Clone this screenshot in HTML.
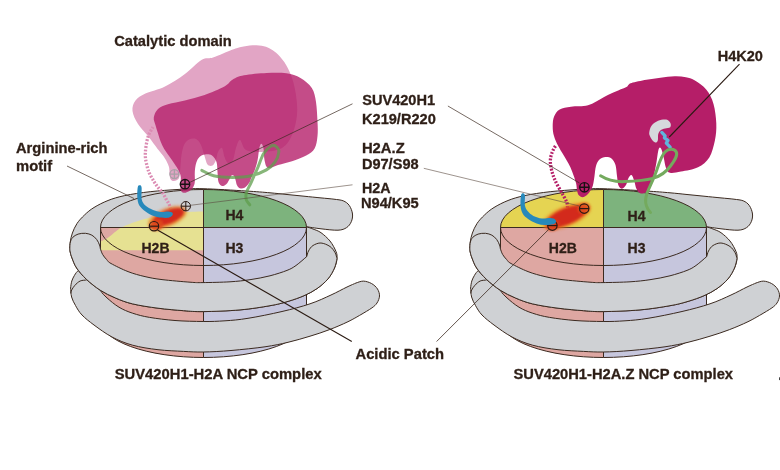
<!DOCTYPE html>
<html><head><meta charset="utf-8"><title>SUV420H1 NCP complex</title>
<style>html,body{margin:0;padding:0;background:#fff}svg{display:block}text{font-family:"Liberation Sans",sans-serif;font-weight:bold;font-size:14px;fill:#2e1f17;stroke:#2e1f17;stroke-width:0.3px}.dna{fill:#cfd1d4;stroke:#3b2a20;stroke-width:1;stroke-linejoin:round}.ln{fill:none;stroke:#3b2a20;stroke-width:1}.ld{fill:none;stroke:#3b2a20;stroke-width:0.7}.lt{fill:none;stroke:#5a4a40;stroke-width:0.6}.lk{fill:none;stroke:#2a1a12;stroke-width:1.1}</style></head><body>
<svg width="780" height="470" viewBox="0 0 780 470">
<defs>
<radialGradient id="rg"><stop offset="0" stop-color="#d8261c"/><stop offset="0.55" stop-color="#d8261c"/><stop offset="0.8" stop-color="#e2571f" stop-opacity="0.75"/><stop offset="1" stop-color="#ee8a22" stop-opacity="0"/></radialGradient>
<filter id="bl" x="-30%" y="-60%" width="160%" height="220%"><feGaussianBlur stdDeviation="1.2"/></filter>
<filter id="bl2" x="-30%" y="-60%" width="160%" height="220%"><feGaussianBlur stdDeviation="1.7"/></filter>
<g id="back"><path d="M100.5,268 L100.5,320 A103,37.5 0 0 0 203.5,357.5 L203.5,268Z" fill="#dea7a2"/>
<path d="M203.5,268 L203.5,357.5 A103,37.5 0 0 0 306.5,320 L306.5,268Z" fill="#c6c6dd"/>
<path d="M100.5,268 L100.5,320 A103,37.5 0 0 0 306.5,320 L306.5,268 M203.5,268 L203.5,357.5" class="ln"/>
<path d="M70.6,288C70.8,286.8 71.1,283.1 71.8,281C72.5,278.9 73.4,277.1 74.5,275.3C75.6,273.5 76.8,271.5 78.6,270.4C80.3,269.3 82.6,267.4 85,268.5C87.4,269.6 90.5,273.4 93,277C95.5,280.6 97.9,286.7 100.2,290.2C102.5,293.7 103.9,295.1 107,297.9C110.1,300.7 114.7,304.6 119,307.2C123.3,309.8 127.5,311.5 132.6,313.2C137.7,314.9 142.5,316.2 149.6,317.4C156.7,318.6 166.1,319.8 175,320.5C183.9,321.2 194.9,321.4 203.2,321.5C211.5,321.6 217.5,321.3 225,320.8C232.5,320.3 238.5,319.9 248,318.3C257.5,316.8 271.7,313.9 282,311.5C292.3,309.1 301.8,306.6 310,303.8C318.2,301.1 324.8,297.8 331,295C337.2,292.2 342.8,289 347,287C351.2,285 354.5,283.7 356,283L356,283C357.2,282.7 360.8,281 363.4,281.1C366,281.2 369.1,282.2 371.5,283.5C373.9,284.8 376.2,286.9 377.5,289C378.8,291.1 379.6,293.7 379.5,296C379.4,298.3 378.3,301 377,303C375.7,305 374.4,306.1 371.9,307.9C369.4,309.7 363.6,313 362,314L362,314C359.7,315.3 353.4,319.1 348,321.7C342.6,324.3 335.6,327.3 329.3,329.7C323,332.1 316.9,334.1 310,336.2C303.1,338.3 295.5,340.5 288,342.3C280.5,344.1 274.5,345.4 265,346.8C255.5,348.2 241.3,349.6 231,350.5C220.7,351.4 211.1,351.9 203.2,352C195.3,352.1 191.1,351.8 183.6,351.4C176.1,351 166.5,350.7 158,349.7C149.5,348.7 140.3,347.3 132.6,345.2C124.9,343.1 118.4,340.4 112,337C105.6,333.6 99,328.7 94,325C89,321.3 85.1,318.2 82,315C78.9,311.8 77.2,308.5 75.5,305.5C73.8,302.5 72.4,299.9 71.6,297C70.8,294.1 70.8,289.5 70.6,288Z" class="dna"/>
<path d="M86.6,280C85.5,280.2 82.2,280.1 80.2,281C78.2,281.9 76.3,283.8 74.9,285.3C73.5,286.8 72.4,288.7 71.7,290C71,291.3 70.8,292.8 70.6,293.3" class="ln"/>
<path d="M69.8,248C69.9,246.9 69.9,244 70.3,241.5C70.7,239 71.3,236 72.4,233C73.5,230 75,226.5 77,223.5C79,220.5 81.7,217.7 84.5,215C87.3,212.3 90.1,209.9 94,207.5C97.9,205.1 102.9,202.5 108,200.5C113.1,198.5 117.7,197.1 124.7,195.6C131.7,194.1 141.1,192.7 150.2,191.7C159.2,190.7 170.2,189.9 179,189.4C187.8,188.9 191.8,188.4 203,188.7C214.2,189 234.8,190.3 246,191C257.2,191.7 263.2,192.2 270,192.8C276.8,193.4 281.3,193.9 287,194.5C292.7,195.1 298.3,195.6 304,196.2C309.7,196.8 316,197.4 321,197.9C326,198.4 330.3,198.7 334,199.2C337.7,199.7 340.6,199.8 343.2,200.8C345.8,201.9 347.8,203.3 349.3,205.5C350.9,207.7 352.2,211.3 352.5,214C352.8,216.7 352.3,219.4 351.3,221.7C350.3,224 348.8,226.2 346.6,227.6C344.4,229 342.3,230 338,230.2C333.7,230.4 326.2,229.4 321,228.8C315.8,228.2 309,227.1 306.6,226.8C307.7,227.2 310.6,228 313,229C315.4,230 318.2,230.7 321,232.7C323.8,234.7 327.5,237.9 330,241C332.5,244.1 334.8,248.6 336,251.5C337.2,254.4 337.2,255.9 337,258.7C336.8,261.4 336,264.6 334.5,268C333,271.4 330.8,275.6 327.9,279C325,282.4 321,285.8 317,288.6C313,291.4 308.8,293.6 304,295.7C299.2,297.8 293.7,299.7 288,301.4C282.3,303.1 278,304.3 270,305.7C262,307.1 251.1,308.9 240,309.9C228.9,310.9 212.6,311.5 203.2,311.6C193.8,311.7 191.1,311.3 183.6,310.7C176.1,310.1 166.5,309.3 158,308.2C149.5,307.1 139.7,305.6 132.6,303.9C125.5,302.2 120.9,300.3 115.5,298C110.1,295.7 105,293.3 100.2,290.2C95.4,287.1 90.3,283 86.4,279.3C82.5,275.6 79,271.6 76.6,268C74.2,264.4 73.1,260.7 72,258C70.9,255.3 70.6,253.7 70.2,252C69.8,250.3 69.9,248.7 69.8,248Z" class="dna"/></g>
<g id="dlines"><ellipse cx="203.5" cy="227.5" rx="103" ry="38" class="ln"/>
<path d="M100.5,227.5 L306.5,227.5 M203.5,189.5 L203.5,296 M100.5,227.5 L100.5,258 M306.5,227.5 L306.5,258" class="ln"/></g>
<g id="band"><path d="M69.8,248C69.9,248.7 69.8,250.3 70.2,252C70.6,253.7 70.9,255.3 72,258C73.1,260.7 74.2,264.4 76.6,268C79,271.6 82.5,275.6 86.4,279.3C90.3,283 95.4,287.1 100.2,290.2C105,293.3 110.1,295.7 115.5,298C120.9,300.3 125.5,302.2 132.6,303.9C139.7,305.6 149.5,307.1 158,308.2C166.5,309.3 176.1,310.1 183.6,310.7C191.1,311.3 193.8,311.7 203.2,311.6C212.6,311.5 228.9,310.9 240,309.9C251.1,308.9 262,307.1 270,305.7C278,304.3 282.3,303.1 288,301.4C293.7,299.7 299.2,297.8 304,295.7C308.8,293.6 313,291.4 317,288.6C321,285.8 325,282.4 327.9,279C330.8,275.6 333,271.4 334.5,268C336,264.6 336.6,260.2 337,258.7C336.7,257.7 336.2,254.5 335,252.5C333.8,250.5 332.3,248.1 330,246.5C327.7,244.9 323.8,243.2 321,243C318.2,242.8 315.1,244.2 313,245.5C310.9,246.8 309.5,249.2 308.5,251C307.5,252.8 307.1,255.6 306.8,256.5C305,258 299.3,263.2 296,265.5C292.7,267.8 291.3,268.7 287,270.4C282.7,272.1 276.2,274.2 270,275.8C263.8,277.4 256.7,278.7 250,279.7C243.3,280.7 237.8,281.3 230,281.8C222.2,282.3 209.7,282.5 203,282.6C196.3,282.7 196.8,282.7 190,282.2C183.2,281.7 169.5,280.5 162,279.6C154.5,278.7 150.7,277.9 145,276.6C139.3,275.3 133.7,273.8 128,271.6C122.3,269.4 114.6,265.5 111,263.5C107.4,261.5 108,261 106.6,259.5C105.2,258 103.6,256.2 102.6,254.4C101.5,252.6 100.7,249.5 100.3,248.5C100.2,247.9 100.1,246.5 99.5,245C98.9,243.5 98,241.1 96.7,239.5C95.4,237.9 93.8,236.2 91.9,235.2C90,234.2 87.8,233.5 85.5,233.3C83.2,233.1 80.2,233.4 78.1,234.1C76,234.8 74.1,236 72.8,237.3C71.5,238.6 70.9,240.2 70.4,242C69.9,243.8 69.9,247 69.8,248Z" class="dna"/></g>
</defs>
<rect width="780" height="470" fill="#fff"/>
<g opacity="0.999">
<g id="left">
<use href="#back"/>
<path d="M100.5,227.5 L100.5,258 A103,38 0 0 0 203.5,296 L203.5,227.5Z" fill="#dea7a2"/>
<path d="M203.5,227.5 L203.5,296 A103,38 0 0 0 306.5,258 L306.5,227.5Z" fill="#c6c6dd"/>
<path d="M203.5,227.5 L100.5,227.5 A103,38 0 0 1 203.5,189.5Z" fill="#cfd1d4"/>
<path d="M203.5,227.5 L203.5,189.5 A103,38 0 0 1 306.5,227.5Z" fill="#7db37d"/>
<path d="M203.5,227.5 L306.5,227.5 A103,38 0 0 1 203.5,265.5Z" fill="#c6c6dd"/>
<path d="M203.5,227.5 L203.5,265.5 A103,38 0 0 1 100.5,227.5Z" fill="#dea7a2"/>
<path d="M100.5,241.5C101.7,240.9 105.2,239.4 107.9,237.7C110.6,235.9 113.7,232.9 116.4,231C119.1,229.1 119.9,228.1 124,226.3C128.1,224.5 135.3,221.7 141,220C146.7,218.3 152.3,217.1 158,216C163.7,214.9 169.3,213.9 175,213.2C180.7,212.5 187.2,212.1 192,211.8C196.8,211.5 201.6,211.6 203.5,211.5L203.5,250.2 L100.5,250.2Z" fill="#e6e192"/>
<use href="#dlines"/>
<use href="#band"/>
<text x="225.5" y="220.3">H4</text><text x="225.5" y="252.8">H3</text><text x="141.5" y="252.8">H2B</text>
<path d="M132.5,111C132.1,107.1 133.3,103.5 135.5,100.6C137.7,97.7 140.5,95.9 145.4,93.6C150.3,91.2 158.4,89.8 165,86.5C171.6,83.2 178.8,78.4 184.9,73.9C191,69.4 197.1,62.4 201.8,59.7C206.5,57 207.8,59.2 213,57.5C218.2,55.8 228.1,51.4 232.8,49.6C237.5,47.9 237.7,47.7 241,47C244.3,46.3 248.8,45.4 252.6,45.3C256.4,45.2 260.8,45.6 263.9,46.3C267,47 268.6,47.9 271,49.3C273.4,50.7 275.4,51.9 278,54.6C280.6,57.3 284.1,61.5 286.4,65.4C288.7,69.3 290.4,73.1 292,78C293.6,82.9 295.2,88.8 296,95C296.8,101.2 297.7,108.3 297,115C296.3,121.7 294.5,129.5 292,135C289.5,140.5 287,145.2 282,148C277,150.8 268,151.7 262,152C256,152.3 249.7,152 246,150C242.3,148 241.7,140.3 240,140C238.3,139.7 237.2,144.7 236,148C234.8,151.3 234.3,157.5 233,160C231.7,162.5 229.4,163.5 228,163C226.6,162.5 225.5,159.5 224.5,157C223.5,154.5 223.1,148.8 222,148C220.9,147.2 219,150 218,152C217,154 216.9,157.8 216,160C215.1,162.2 213.9,164.8 212.5,165.5C211.1,166.2 208.8,166.1 207.5,164.5C206.2,162.9 205.6,159.2 204.5,156C203.4,152.8 202.4,147.8 201,145C199.6,142.2 198,139.9 196,139C194,138.1 191,138.5 189,139.5C187,140.5 185.2,142.4 184,145C182.8,147.6 182.1,151.5 181.5,155C180.9,158.5 180.9,162.3 180.5,166C180.1,169.7 180,174.6 179.3,177C178.7,179.4 177.7,179.6 176.6,180.3C175.5,181 173.9,181.3 172.9,181C171.9,180.7 170.9,180 170.3,178.7C169.8,177.4 169.8,175.3 169.6,173.4C169.4,171.5 169.5,168.9 169,167C168.5,165.1 167.8,163.6 166.8,161.7C165.8,159.8 164.2,157.2 162.8,155.3C161.4,153.4 161,153.2 158.5,150C156,146.8 151.4,140.3 148,136C144.6,131.7 140.6,128.2 138,124C135.4,119.8 132.9,114.9 132.5,111Z" fill="#e2a5c5"/>
<path d="M153,127C152.2,128.7 149.2,132.7 147.9,137.2C146.6,141.7 145.4,149.2 145.3,154.2C145.2,159.2 146.5,163.6 147.3,167C148.1,170.4 148.8,172 150,174.5C151.2,177 152.9,179.7 154.2,181.8C155.5,183.9 156.6,185.4 158,187.3C159.4,189.2 161.5,191.1 162.8,193C164.1,194.9 165,197.1 166,198.9C167,200.7 168.2,202.4 169,204C169.8,205.6 170.2,207.8 170.5,208.5" fill="none" stroke="#db8cb3" stroke-width="3.3" stroke-dasharray="1.9,1.5"/>
<g stroke="#a9a0a6" stroke-width="1.3" fill="none"><circle cx="174.4" cy="174.1" r="4.5"/><path d="M169.9,174.1 h9 M174.4,169.6 v9"/></g>
<path d="M153.8,117.6C154.2,114.9 155.6,111.2 158,109C160.4,106.8 163.5,105.7 168,104.3C172.5,102.9 178.8,102.1 184.9,100.6C191,99 198,97.3 204.6,95C211.2,92.7 219.7,89.1 224.4,86.5C229.1,83.9 229.5,81.4 232.8,79.5C236.1,77.6 238.3,76.4 244,75.3C249.7,74.2 259.6,73.3 266.7,73C273.8,72.7 280.8,72.5 286.4,73.3C292,74.1 296.3,75.5 300.5,78C304.7,80.5 309.2,84 311.8,88C314.4,92 315.1,96.4 316,102C316.9,107.6 317.2,116.1 317.5,121.8C317.8,127.5 318,131.5 317.5,136C317,140.5 316.5,145.3 314.6,148.6C312.7,151.9 310,153.5 306.2,155.6C302.4,157.7 296.7,159.7 292,161.3C287.3,162.9 282,163.9 278,165C274,166.1 270.2,168.8 268,168C265.8,167.2 265.2,163.2 264.5,160C263.8,156.8 264,151.2 263.5,148.5C263,145.8 262.2,143.9 261.5,143.8C260.8,143.7 259.9,145.3 259.3,148C258.7,150.7 258.4,156.3 257.6,160C256.9,163.7 255.8,167.2 254.8,170C253.8,172.8 252.7,174.4 251.8,176.5C250.9,178.6 250.6,180.7 249.4,182.6C248.2,184.5 246.2,186.8 244.6,187.7C243,188.6 241.1,188.6 239.8,188.2C238.5,187.8 237.7,186.4 237,185.2C236.3,184 236.2,182.5 235.8,181C235.4,179.5 235,177.2 234.3,176.3C233.7,175.4 232.7,174.9 231.9,175.3C231.1,175.8 230.5,177.6 229.6,179C228.7,180.4 227.8,182.8 226.5,184C225.2,185.2 223.3,186.3 222,186C220.7,185.7 219.2,184.3 218.5,182C217.8,179.7 217.8,175.3 217.5,172C217.2,168.7 217.4,164.8 216.5,162C215.6,159.2 213.9,156.8 212,155.5C210.1,154.2 207.1,154.2 205,154.5C202.9,154.8 201,155.6 199.5,157C198,158.4 197,160.5 196.2,163C195.4,165.5 195,168.8 194.8,172C194.6,175.2 195.1,179.4 194.8,182C194.5,184.6 194,185.9 193,187.5C192,189.1 190.4,190.4 189,191.3C187.6,192.2 185.8,192.8 184.5,192.8C183.2,192.8 181.9,192.5 181.2,191.3C180.5,190.1 180.3,187.8 180.2,185.5C180.1,183.2 181.1,180 180.8,177.5C180.6,175 179.7,172.8 178.7,170.6C177.7,168.3 176.1,166.3 174.6,164C173.1,161.7 171.1,159.1 169.4,156.6C167.7,154.1 165.7,151.6 164.2,149.1C162.7,146.6 161.6,144.1 160.6,141.5C159.6,138.9 158.9,136.5 158.1,133.8C157.2,131.1 156.2,128 155.5,125.3C154.8,122.6 153.4,120.3 153.8,117.6Z" fill="#b51f6a" fill-opacity="0.8"/>
<g transform="translate(167.5,217.3) rotate(-22)"><ellipse cx="0" cy="0" rx="20.5" ry="9.3" fill="#ea7a20" opacity="0.75" filter="url(#bl2)"/><ellipse cx="1" cy="0" rx="16.5" ry="6.8" fill="#d3291b" filter="url(#bl)"/><ellipse cx="-13" cy="3" rx="7" ry="5.5" fill="#de4a1e" opacity="0.9" filter="url(#bl)"/></g>
<path d="M139.7,185.3C140.3,185.3 141.3,185.2 141.6,187.5C141.9,189.8 141.1,196.2 141.7,199.2C142.3,202.2 143.5,203.7 145.4,205.5C147.3,207.3 150.5,208.9 153.1,210C155.7,211.1 158.2,211.7 160.8,211.9C163.4,212.1 166.5,211.3 168.4,211.4C170.3,211.5 171.5,212 172.2,212.6C172.9,213.2 172.9,214.3 172.6,215C172.3,215.7 171.6,216.5 170.5,217C169.4,217.5 168.2,217.9 165.9,217.9C163.6,217.9 159.9,217.9 156.9,217.1C153.9,216.3 150.8,215 148,213.3C145.2,211.6 142.1,209.2 140.3,206.8C138.6,204.5 137.9,202.4 137.5,199.2C137.1,196 137.3,189.8 137.7,187.5C138.1,185.2 139,185.3 139.7,185.3Z" fill="#2789bb"/>
<path d="M201.8,170.4C203.8,171.3 208.6,174.6 213.7,175.8C218.8,177 226.2,177.4 232.4,177.4C238.6,177.4 245.4,177.1 251.1,175.8C256.8,174.6 262.4,172.2 266.4,169.9C270.4,167.6 272.8,165.2 274.9,162.2C277,159.2 278.6,154.7 278.8,152C279,149.3 277.2,147.2 275.8,146.2C274.4,145.2 272.8,144.9 270.7,146.2C268.6,147.4 265.6,150.2 263.5,153.7C261.4,157.2 260,162.5 257.9,167.3C255.8,172.1 253,178.3 251.1,182.6C249.2,186.8 247.1,190 246.3,192.8C245.5,195.6 245.6,197.6 246.2,199.6C246.8,201.6 249.2,203.9 249.8,204.8" fill="none" stroke="#5f9e4c" stroke-opacity="0.75" stroke-width="3" stroke-linecap="round"/>
<g stroke="#1a1014" stroke-width="1.4" fill="none"><circle cx="185" cy="184.2" r="4.7"/><path d="M180.3,184.2 h9.4 M185,179.5 v9.4"/></g>
<g stroke="#2a1a14" stroke-width="1.0" fill="none"><circle cx="185.8" cy="206.2" r="4.7"/><path d="M181.1,206.2 h9.4 M185.8,201.5 v9.4"/></g>
<g stroke="#2a1a14" stroke-width="1.2" fill="none"><circle cx="154" cy="226.2" r="4.7"/><path d="M149.3,226.2 h9.4"/></g>
<path d="M67,166 L134,198.5 M352.5,103.8 L190,182.3" class="ld"/>
<path d="M157.5,230 L351.8,341.5" class="lk"/>
<path d="M352.5,184.8 L190.5,205.3" class="lt"/>
</g>
<g id="right">
<g transform="translate(400,0)">
<use href="#back"/>
<path d="M100.5,227.5 L100.5,258 A103,38 0 0 0 203.5,296 L203.5,227.5Z" fill="#dea7a2"/>
<path d="M203.5,227.5 L203.5,296 A103,38 0 0 0 306.5,258 L306.5,227.5Z" fill="#c6c6dd"/>
<path d="M203.5,227.5 L100.5,227.5 A103,38 0 0 1 203.5,189.5Z" fill="#e5d452"/>
<path d="M203.5,227.5 L203.5,189.5 A103,38 0 0 1 306.5,227.5Z" fill="#7db37d"/>
<path d="M203.5,227.5 L306.5,227.5 A103,38 0 0 1 203.5,265.5Z" fill="#c6c6dd"/>
<path d="M203.5,227.5 L203.5,265.5 A103,38 0 0 1 100.5,227.5Z" fill="#dea7a2"/>
<use href="#dlines"/>
<use href="#band"/>
<text x="227.6" y="220.7">H4</text><text x="227.6" y="252.6">H3</text><text x="148.8" y="252.6">H2B</text>
</g>
<path d="M555.5,146 C551.5,152 549.8,158 550.5,164 C551.5,172 554,179 558.5,187 C562,193.5 565.5,198.5 567,203 C567.6,205 567.5,206.5 567.4,208" fill="none" stroke="#b51e68" stroke-width="3.3" stroke-dasharray="1.9,1.5"/>
<path d="M552.7,126.4C552.7,123.2 552.9,119.3 554.1,116.5C555.3,113.7 556.9,111.1 559.7,109.5C562.5,107.9 566.3,107.4 571,106.7C575.7,106 582.5,106.9 588,105.3C593.5,103.7 599.1,99.4 604.1,96.9C609.1,94.4 614.5,92.1 618.2,90.5C621.9,88.9 624.7,88.1 626.4,87.1C628.1,86.1 627.7,85.4 628.6,84.7C629.5,84 628.6,83.7 631.6,82.9C634.6,82.1 641.6,80.7 646.4,79.8C651.2,78.9 655.8,78.3 660.5,77.7C665.2,77.1 670.4,76.4 674.6,76.3C678.8,76.2 682.6,76.5 685.9,77.2C689.2,77.9 691.1,78.2 694.5,80.3C697.9,82.4 703.2,85.8 706.4,89.7C709.6,93.6 711.9,98.2 713.5,103.9C715.1,109.6 716.1,117.5 716.3,123.6C716.5,129.7 716.1,134.9 714.9,140.5C713.7,146.1 712.1,152.9 709.3,157.4C706.5,161.9 702.7,164.9 698,167.3C693.3,169.7 685.7,170.7 681,171.6C676.3,172.5 672.5,173.4 670,172.8C667.5,172.2 667,170.5 666,168C665,165.5 664.5,160.9 663.8,158C663.1,155.1 662.4,152 661.8,150.3C661.1,148.6 660.5,147.5 659.9,147.6C659.3,147.7 658.8,148.6 658.2,151C657.6,153.4 657.2,158 656.5,162C655.8,166 654.8,171.2 654,175C653.2,178.8 652.7,182.2 651.5,185C650.3,187.8 648.8,190.1 647,191.5C645.2,192.9 642.8,193.9 641,193.5C639.2,193.1 637.6,191.1 636.5,189C635.4,186.9 635.1,183.3 634.3,181C633.5,178.7 632.5,175.5 631.5,175C630.5,174.5 629.4,176.3 628.5,178C627.6,179.7 627.1,183.2 626,185C624.9,186.8 623.3,188.7 622,188.7C620.7,188.7 619.1,187.1 618.3,185C617.5,182.9 617.5,179.3 617,176C616.5,172.7 616.4,167.9 615.5,165C614.6,162.1 613.2,159.8 611.5,158.5C609.8,157.2 607.5,156.8 605.5,157C603.5,157.2 601.1,158 599.5,159.5C597.9,161 596.8,163.2 596,166C595.2,168.8 595,172.8 594.5,176C594,179.2 593.7,182.6 593,185C592.3,187.4 591.5,188.8 590.5,190.5C589.5,192.2 588.3,193.9 587,195C585.7,196.1 583.9,197.2 582.5,197.2C581.1,197.2 579.5,196.2 578.6,195C577.7,193.8 577.4,192 577,190C576.6,188 576.8,186 576,183C575.2,180 573.6,175.3 572.3,172C571,168.7 570.5,167.2 568.2,163C565.9,158.8 560.9,151 558.5,146.5C556.1,142 555,139.3 554,136C553,132.7 552.7,129.7 552.7,126.4Z" fill="#b51e68"/>
<path d="M649.3,131.9C649.6,130.2 650.2,127.3 651.7,125.5C653.2,123.7 655.7,121.8 658.1,120.8C660.5,119.8 664.2,119.2 666.3,119.6C668.3,120 669.8,121.8 670.4,123.1C671,124.4 671.1,126.3 670.2,127.2C669.3,128.1 666.7,128.1 665.1,128.6C663.5,129.1 661.5,129.4 660.4,130.4C659.2,131.4 658.6,132.7 658.2,134.3C657.8,135.9 658.2,138.7 657.9,140.1C657.5,141.5 657,142.4 656.1,142.5C655.2,142.6 653.8,141.8 652.8,140.7C651.8,139.6 650.5,137.5 649.9,136C649.3,134.5 649,133.7 649.3,131.9Z" fill="#d6d9dc"/>
<path d="M661.8,132.4 L665.1,135.9 L664.4,137.9 L668,140.3 L666.3,143.2 L670.2,147.2" fill="none" stroke="#5fb4dc" stroke-width="3.3" stroke-linejoin="round" stroke-linecap="round"/>
<g transform="translate(566.5,216.3) rotate(-22)"><ellipse cx="0" cy="0" rx="25.5" ry="10" fill="#ea7a20" opacity="0.8" filter="url(#bl2)"/><ellipse cx="0" cy="0" rx="21" ry="8" fill="#d3291b" filter="url(#bl)"/><ellipse cx="-16" cy="3" rx="7" ry="5.5" fill="#dc3f1d" opacity="0.9" filter="url(#bl)"/><ellipse cx="19" cy="-1" rx="6.5" ry="5.5" fill="#e0501e" opacity="0.85" filter="url(#bl)"/></g>
<path d="M600.6,175.8 C608,180.5 616,182 624.6,181.6 C635,181.2 644,180.8 652.8,178.4 C661,176 666.5,171.5 670.5,166 C674.5,160.5 678,155.5 676.3,152 C674.5,148.3 668.5,148.5 665,152 C661.5,155.5 659.5,162 657,169.5 C654,178 650.5,185 647.5,192 C645.5,197 645,202 646.5,206 C647.5,209 649,211 650.5,212.5" fill="none" stroke="#74aa5e" stroke-width="3" stroke-linecap="round"/>
<g stroke="#1a1014" stroke-width="1.4" fill="none"><circle cx="584.4" cy="187.3" r="4.7"/><path d="M579.7,187.3 h9.4 M584.4,182.6 v9.4"/></g>
<g stroke="#2a1a14" stroke-width="1.2" fill="none"><circle cx="584.2" cy="208.6" r="4.7"/><path d="M579.5,208.6 h9.4"/></g>
<g stroke="#2a1a14" stroke-width="1.2" fill="none"><circle cx="552.4" cy="225.6" r="4.7"/><path d="M547.7,225.6 h9.4"/></g>
<path d="M523,193.2C523.6,193.2 524.6,193.5 524.9,195.5C525.2,197.5 524.4,202.6 524.9,205.2C525.4,207.8 526.2,209.3 527.6,211.1C529,212.9 531,214.7 533.4,215.9C535.8,217.1 539.1,218.1 541.9,218.5C544.7,218.9 548.2,217.9 550.4,218.1C552.6,218.2 554.1,218.8 555,219.4C555.9,220 556.2,221 556,221.8C555.8,222.6 555.4,223.7 553.6,224.2C551.8,224.7 547.9,225.1 545.1,225C542.3,224.9 539.4,224.4 536.6,223.4C533.8,222.4 530.4,220.6 528.1,219C525.8,217.4 524,215.8 522.8,213.7C521.5,211.6 520.9,209.3 520.6,206.3C520.3,203.3 520.6,197.7 521,195.5C521.4,193.3 522.4,193.2 523,193.2Z" fill="#2789bb"/>
<path d="M447.9,106 L579.5,183" class="ld"/>
<path d="M423.8,168.3 L579.4,206" class="lt"/>
<path d="M548.8,229.3 L436.6,341.5" class="ld" style="stroke-width:0.8"/>
<path d="M739.5,64.1 L669.3,137" class="lk"/>
</g>
<text x="114.2" y="45.5" textLength="117.5" lengthAdjust="spacingAndGlyphs">Catalytic domain</text>
<text x="16" y="153" textLength="91.5" lengthAdjust="spacingAndGlyphs">Arginine-rich</text>
<text x="16" y="170.6" textLength="36.1" lengthAdjust="spacingAndGlyphs">motif</text>
<text x="362.2" y="105.4" textLength="72.9" lengthAdjust="spacingAndGlyphs">SUV420H1</text>
<text x="362" y="123.5" textLength="73.8" lengthAdjust="spacingAndGlyphs">K219/R220</text>
<text x="361.9" y="152.8" textLength="42.8" lengthAdjust="spacingAndGlyphs">H2A.Z</text>
<text x="361.9" y="169" textLength="56.7" lengthAdjust="spacingAndGlyphs">D97/S98</text>
<text x="361.9" y="193" textLength="28.6" lengthAdjust="spacingAndGlyphs">H2A</text>
<text x="360.9" y="207.7" textLength="57.9" lengthAdjust="spacingAndGlyphs">N94/K95</text>
<text x="355.5" y="358.5" textLength="88.5" lengthAdjust="spacingAndGlyphs">Acidic Patch</text>
<text x="114.7" y="378.9" textLength="207" lengthAdjust="spacingAndGlyphs">SUV420H1-H2A NCP complex</text>
<text x="513.5" y="379.4" textLength="219.5" lengthAdjust="spacingAndGlyphs">SUV420H1-H2A.Z NCP complex</text>
<text x="717.7" y="61" textLength="45.2" lengthAdjust="spacingAndGlyphs">H4K20</text>
<rect x="779" y="377.3" width="1" height="2.8" fill="#444"/>
</g>
</svg></body></html>
